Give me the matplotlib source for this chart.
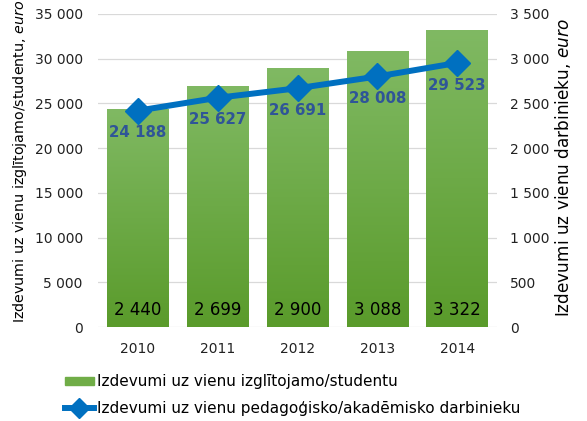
import matplotlib.pyplot as plt
from matplotlib.lines import Line2D
from matplotlib.patches import Patch
import numpy as np

years = ["2010", "2011", "2012", "2013", "2014"]
per_student = [2440, 2699, 2900, 3088, 3322]
per_staff = [24188, 25627, 26691, 28008, 29523]

left_ticks = [0, 5000, 10000, 15000, 20000, 25000, 30000, 35000]
right_ticks = [0, 500, 1000, 1500, 2000, 2500, 3000, 3500]


def fmt(v):
    return f"{v:,}".replace(",", " ")


plt.rcParams["font.family"] = ["DejaVu Sans"]

fig = plt.figure(figsize=(5.87, 4.21), dpi=100)
ax = fig.add_axes([0.167, 0.223, 0.68, 0.744])
ax2 = ax.twinx()

x = np.arange(len(years))

# bars on right axis, drawn behind the line
ax.set_zorder(ax2.get_zorder() + 1)
ax.patch.set_visible(False)

bars = ax2.bar(x, per_student, width=0.775, color="#70ad47", zorder=2)
grad = np.linspace(0, 1, 100).reshape(-1, 1)
cmap = plt.matplotlib.colors.LinearSegmentedColormap.from_list("g", ["#5a9b2b", "#80b963"])
for b in bars:
    x0, y0, w, h = b.get_x(), b.get_y(), b.get_width(), b.get_height()
    im = ax2.imshow(grad, extent=(x0, x0 + w, y0, y0 + h), origin="lower",
                    aspect="auto", cmap=cmap, zorder=2)
    im.set_clip_path(b)
for xi, v in zip(x, per_student):
    ax2.annotate(fmt(v), (xi, 0), xytext=(0, 12), textcoords="offset points",
                 ha="center", va="center", fontsize=12, color="black", zorder=4)

ax.plot(x, per_staff, color="#0070c0", lw=4.3, marker="D", markersize=13,
        zorder=5, solid_capstyle="round")
for xi, v in zip(x, per_staff):
    ax.annotate(fmt(v), (xi, v), xytext=(0, -16), textcoords="offset points",
                ha="center", va="center", fontsize=10.8, fontweight="bold",
                color="#2f5597", zorder=6)

ax.set_xlim(-0.5, len(years) - 0.5)
ax.set_ylim(0, 35000)
ax2.set_ylim(0, 3500)
ax.set_yticks(left_ticks)
ax.set_yticklabels([fmt(t) for t in left_ticks])
ax2.set_yticks(right_ticks)
ax2.set_yticklabels([fmt(t) for t in right_ticks])
ax.set_xticks(x)
ax.set_xticklabels(years)

ax2.grid(axis="y", color="#d9d9d9", lw=0.9, zorder=0)
ax2.set_axisbelow(True)
for a in (ax, ax2):
    for s in a.spines.values():
        s.set_visible(False)
    a.tick_params(length=0, labelsize=10, colors="#222222")
ax.tick_params(axis="y", pad=11)
ax2.tick_params(axis="y", pad=9.5)
ax.tick_params(axis="x", pad=11)

fig.text(20 / 587, 1 - 323 / 421, "Izdevumi uz vienu izglītojamo/studentu, $\\it{euro}$",
         rotation=90, ha="center", va="bottom", fontsize=10.3)
fig.text(563 / 587, 1 - 317 / 421, "Izdevumi uz vienu darbinieku, $\\it{euro}$",
         rotation=90, ha="center", va="bottom", fontsize=12.2)

handles = [Patch(color="#70ad47"),
           Line2D([0], [0], color="#0070c0", lw=4.3, marker="D", markersize=10)]
labels = ["Izdevumi uz vienu izglītojamo/studentu",
          "Izdevumi uz vienu pedagoģisko/akadēmisko darbinieku"]
fig.legend(handles, labels, loc="upper left", bbox_to_anchor=(0.1, 0.125),
           frameon=False, fontsize=11, handlelength=1.9, handleheight=0.5,
           handletextpad=0.2, labelspacing=0.75, borderaxespad=0)

fig.savefig("out.png", dpi=100, facecolor="white")
